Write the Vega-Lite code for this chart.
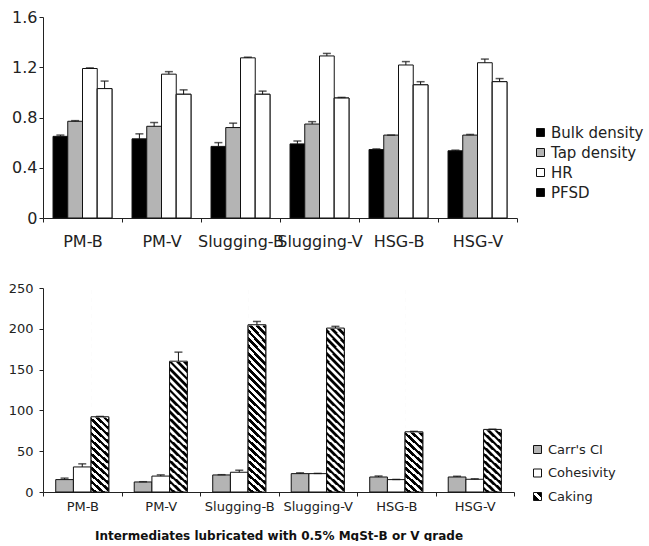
{
  "$schema": "https://vega.github.io/schema/vega-lite/v6.json",
  "padding": {"left": 8, "top": 9, "right": 0, "bottom": 0},
  "background": "white",
  "spacing": 33,
  "resolve": {"scale": {"x": "independent", "y": "independent", "xOffset": "independent", "fill": "independent"}, "legend": {"fill": "independent"}, "axis": {"x": "independent", "y": "independent"}},
  "datasets": {
    "top": [
      {"g": "PM-B", "m": "Bulk density", "v": 0.65, "hi": 0.66},
      {"g": "PM-B", "m": "Tap density", "v": 0.77, "hi": 0.775},
      {"g": "PM-B", "m": "HR", "v": 1.19, "hi": 1.195},
      {"g": "PM-B", "m": "PFSD", "v": 1.03, "hi": 1.09},
      {"g": "PM-V", "m": "Bulk density", "v": 0.63, "hi": 0.67},
      {"g": "PM-V", "m": "Tap density", "v": 0.73, "hi": 0.76},
      {"g": "PM-V", "m": "HR", "v": 1.145, "hi": 1.165},
      {"g": "PM-V", "m": "PFSD", "v": 0.985, "hi": 1.02},
      {"g": "Slugging-B", "m": "Bulk density", "v": 0.57, "hi": 0.6},
      {"g": "Slugging-B", "m": "Tap density", "v": 0.72, "hi": 0.755},
      {"g": "Slugging-B", "m": "HR", "v": 1.275, "hi": 1.28},
      {"g": "Slugging-B", "m": "PFSD", "v": 0.985, "hi": 1.01},
      {"g": "Slugging-V", "m": "Bulk density", "v": 0.59, "hi": 0.613},
      {"g": "Slugging-V", "m": "Tap density", "v": 0.748, "hi": 0.767},
      {"g": "Slugging-V", "m": "HR", "v": 1.29, "hi": 1.31},
      {"g": "Slugging-V", "m": "PFSD", "v": 0.955, "hi": 0.96},
      {"g": "HSG-B", "m": "Bulk density", "v": 0.545, "hi": 0.55},
      {"g": "HSG-B", "m": "Tap density", "v": 0.66, "hi": 0.66},
      {"g": "HSG-B", "m": "HR", "v": 1.218, "hi": 1.245},
      {"g": "HSG-B", "m": "PFSD", "v": 1.06, "hi": 1.085},
      {"g": "HSG-V", "m": "Bulk density", "v": 0.535, "hi": 0.54},
      {"g": "HSG-V", "m": "Tap density", "v": 0.66, "hi": 0.665},
      {"g": "HSG-V", "m": "HR", "v": 1.236, "hi": 1.265},
      {"g": "HSG-V", "m": "PFSD", "v": 1.085, "hi": 1.11}
    ],
    "bottom": [
      {"g": "PM-B", "m": "Carr's CI", "v": 15.2, "hi": 17},
      {"g": "PM-B", "m": "Cohesivity", "v": 30.7, "hi": 34.5},
      {"g": "PM-B", "m": "Caking", "v": 92.2, "hi": 92.6},
      {"g": "PM-V", "m": "Carr's CI", "v": 12.3, "hi": 12.6},
      {"g": "PM-V", "m": "Cohesivity", "v": 19.5, "hi": 21},
      {"g": "PM-V", "m": "Caking", "v": 160.3, "hi": 171.4},
      {"g": "Slugging-B", "m": "Carr's CI", "v": 20.9, "hi": 21.2},
      {"g": "Slugging-B", "m": "Cohesivity", "v": 24.2, "hi": 26.7},
      {"g": "Slugging-B", "m": "Caking", "v": 205, "hi": 209},
      {"g": "Slugging-V", "m": "Carr's CI", "v": 22.5, "hi": 23.5},
      {"g": "Slugging-V", "m": "Cohesivity", "v": 22.5, "hi": 22.8},
      {"g": "Slugging-V", "m": "Caking", "v": 200.9, "hi": 203},
      {"g": "HSG-B", "m": "Carr's CI", "v": 18.4, "hi": 19.6},
      {"g": "HSG-B", "m": "Cohesivity", "v": 15.2, "hi": 15.4},
      {"g": "HSG-B", "m": "Caking", "v": 73.8, "hi": 74.3},
      {"g": "HSG-V", "m": "Carr's CI", "v": 18.4, "hi": 19.3},
      {"g": "HSG-V", "m": "Cohesivity", "v": 15.6, "hi": 16.2},
      {"g": "HSG-V", "m": "Caking", "v": 76.7, "hi": 77}
    ]
  },
  "vconcat": [
    {
      "width": 474,
      "height": 201,
      "data": {"name": "top"},
      "encoding": {
        "x": {"field": "g", "type": "nominal", "sort": null,
          "scale": {"domain": ["PM-B", "PM-V", "Slugging-B", "Slugging-V", "HSG-B", "HSG-V"], "paddingInner": 0, "paddingOuter": 0},
          "axis": {"title": null, "labelAngle": 0, "labelFontSize": 16, "labelPadding": 11, "tickBand": "extent", "labelOverlap": false, "labelBound": false}},
        "xOffset": {"field": "m", "type": "nominal",
          "scale": {"domain": ["Bulk density", "Tap density", "HR", "PFSD"], "paddingInner": 0, "paddingOuter": 0.68}}
      },
      "layer": [
        {
          "mark": {"type": "bar", "stroke": "#111", "strokeWidth": 1},
          "encoding": {
            "y": {"field": "v", "type": "quantitative", "stack": null,
              "scale": {"domain": [0, 1.6], "nice": false},
              "axis": {"title": null, "values": [0, 0.4, 0.8, 1.2, 1.6], "format": "~g", "labelFontSize": 16, "labelPadding": 2}},
            "fill": {"field": "m", "type": "nominal",
              "scale": {"domain": ["Bulk density", "Tap density", "HR", "PFSD"], "range": ["#000000", "#b4b4b4", "#ffffff", "#000000"]},
              "legend": {"orient": "none", "legendX": 490, "legendY": 108, "title": null, "symbolType": "square", "symbolSize": 64,
                "symbolStrokeColor": "#111", "symbolStrokeWidth": 1, "symbolOpacity": 1,
                "labelFont": "DejaVu Sans", "labelFontSize": 15, "labelColor": "#222", "rowPadding": 4, "labelOffset": 3}}
          }
        },
        {
          "transform": [{"filter": "datum.m == 'PFSD'"}],
          "mark": {"type": "bar", "fill": "#ffffff", "stroke": "#111", "strokeWidth": 1},
          "encoding": {
            "y": {"field": "v", "type": "quantitative", "stack": null}
          }
        },
        {
          "mark": {"type": "rule", "color": "#111", "strokeWidth": 1},
          "encoding": {
            "y": {"field": "v", "type": "quantitative"},
            "y2": {"field": "hi"}
          }
        },
        {
          "mark": {"type": "tick", "orient": "horizontal", "size": 8, "thickness": 1.5, "color": "#111"},
          "encoding": {
            "y": {"field": "hi", "type": "quantitative"}
          }
        }
      ]
    },
    {
      "width": 471,
      "height": 204,
      "data": {"name": "bottom"},
      "encoding": {
        "x": {"field": "g", "type": "nominal", "sort": null,
          "scale": {"domain": ["PM-B", "PM-V", "Slugging-B", "Slugging-V", "HSG-B", "HSG-V"], "paddingInner": 0, "paddingOuter": 0},
          "axis": {"title": "Intermediates lubricated with 0.5% MgSt-B or V grade", "titleFont": "DejaVu Sans", "titleFontWeight": "bold", "titleFontSize": 12, "titleColor": "#111", "titlePadding": 17,
            "labelAngle": 0, "labelFontSize": 13, "labelPadding": 4, "tickBand": "extent", "labelOverlap": false, "labelBound": false}},
        "xOffset": {"field": "m", "type": "nominal",
          "scale": {"domain": ["Carr's CI", "Cohesivity", "Caking"], "paddingInner": 0, "paddingOuter": 0.72}}
      },
      "layer": [
        {
          "mark": {"type": "bar", "stroke": "#111", "strokeWidth": 1},
          "encoding": {
            "y": {"field": "v", "type": "quantitative", "stack": null,
              "scale": {"domain": [0, 250], "nice": false},
              "axis": {"title": null, "values": [0, 50, 100, 150, 200, 250], "labelFontSize": 13, "labelPadding": 6}},
            "fill": {"field": "m", "type": "nominal",
              "scale": {"domain": ["Carr's CI", "Cohesivity", "Caking"], "range": ["#b4b4b4", "#ffffff",
                {"expr": "{gradient: 'linear', x1: 1, y1: 0, x2: 0, y2: 1, stops: [{offset: 0, color: '#000'}, {offset: 0.35, color: '#000'}, {offset: 0.35, color: '#fff'}, {offset: 0.6, color: '#fff'}, {offset: 0.6, color: '#000'}, {offset: 1, color: '#000'}]}"}]},
              "legend": {"orient": "none", "legendX": 488, "legendY": 155, "title": null, "symbolType": "square", "symbolSize": 64,
                "symbolStrokeColor": "#111", "symbolStrokeWidth": 1, "symbolOpacity": 1,
                "labelFont": "DejaVu Sans", "labelFontSize": 13, "labelColor": "#222", "rowPadding": 9.5, "labelOffset": 4}}
          }
        },
        {
          "transform": [{"filter": "datum.m == 'Caking'"}],
          "mark": {"type": "bar", "strokeWidth": 0, "fill": {"gradient": "radial", "x1": 3.682, "y1": -2.682, "r1": 0, "x2": 3.682, "y2": -2.682, "r2": 5, "stops": [
            {"offset": 0.82, "color": "#000"}, {"offset": 0.8225, "color": "#000"}, {"offset": 0.8225, "color": "#fff"}, {"offset": 0.825, "color": "#fff"},
            {"offset": 0.825, "color": "#000"}, {"offset": 0.8275, "color": "#000"}, {"offset": 0.8275, "color": "#fff"}, {"offset": 0.83, "color": "#fff"},
            {"offset": 0.83, "color": "#000"}, {"offset": 0.8325, "color": "#000"}, {"offset": 0.8325, "color": "#fff"}, {"offset": 0.835, "color": "#fff"},
            {"offset": 0.835, "color": "#000"}, {"offset": 0.8375, "color": "#000"}, {"offset": 0.8375, "color": "#fff"}, {"offset": 0.84, "color": "#fff"},
            {"offset": 0.84, "color": "#000"}, {"offset": 0.8425, "color": "#000"}, {"offset": 0.8425, "color": "#fff"}, {"offset": 0.845, "color": "#fff"},
            {"offset": 0.845, "color": "#000"}, {"offset": 0.8475, "color": "#000"}, {"offset": 0.8475, "color": "#fff"}, {"offset": 0.85, "color": "#fff"},
            {"offset": 0.85, "color": "#000"}, {"offset": 0.8525, "color": "#000"}, {"offset": 0.8525, "color": "#fff"}, {"offset": 0.855, "color": "#fff"},
            {"offset": 0.855, "color": "#000"}, {"offset": 0.8575, "color": "#000"}, {"offset": 0.8575, "color": "#fff"}, {"offset": 0.86, "color": "#fff"},
            {"offset": 0.86, "color": "#000"}, {"offset": 0.8625, "color": "#000"}, {"offset": 0.8625, "color": "#fff"}, {"offset": 0.865, "color": "#fff"},
            {"offset": 0.865, "color": "#000"}, {"offset": 0.8675, "color": "#000"}, {"offset": 0.8675, "color": "#fff"}, {"offset": 0.87, "color": "#fff"},
            {"offset": 0.87, "color": "#000"}, {"offset": 0.8725, "color": "#000"}, {"offset": 0.8725, "color": "#fff"}, {"offset": 0.875, "color": "#fff"},
            {"offset": 0.875, "color": "#000"}, {"offset": 0.8775, "color": "#000"}, {"offset": 0.8775, "color": "#fff"}, {"offset": 0.88, "color": "#fff"},
            {"offset": 0.88, "color": "#000"}, {"offset": 0.8825, "color": "#000"}, {"offset": 0.8825, "color": "#fff"}, {"offset": 0.885, "color": "#fff"},
            {"offset": 0.885, "color": "#000"}, {"offset": 0.8875, "color": "#000"}, {"offset": 0.8875, "color": "#fff"}, {"offset": 0.89, "color": "#fff"},
            {"offset": 0.89, "color": "#000"}, {"offset": 0.8925, "color": "#000"}, {"offset": 0.8925, "color": "#fff"}, {"offset": 0.895, "color": "#fff"},
            {"offset": 0.895, "color": "#000"}, {"offset": 0.8975, "color": "#000"}, {"offset": 0.8975, "color": "#fff"}, {"offset": 0.9, "color": "#fff"},
            {"offset": 0.9, "color": "#000"}, {"offset": 0.9025, "color": "#000"}, {"offset": 0.9025, "color": "#fff"}, {"offset": 0.905, "color": "#fff"},
            {"offset": 0.905, "color": "#000"}, {"offset": 0.9075, "color": "#000"}, {"offset": 0.9075, "color": "#fff"}, {"offset": 0.91, "color": "#fff"},
            {"offset": 0.91, "color": "#000"}, {"offset": 0.9125, "color": "#000"}, {"offset": 0.9125, "color": "#fff"}, {"offset": 0.915, "color": "#fff"},
            {"offset": 0.915, "color": "#000"}, {"offset": 0.9175, "color": "#000"}, {"offset": 0.9175, "color": "#fff"}, {"offset": 0.92, "color": "#fff"},
            {"offset": 0.92, "color": "#000"}, {"offset": 0.9225, "color": "#000"}, {"offset": 0.9225, "color": "#fff"}, {"offset": 0.925, "color": "#fff"},
            {"offset": 0.925, "color": "#000"}, {"offset": 0.9275, "color": "#000"}, {"offset": 0.9275, "color": "#fff"}, {"offset": 0.93, "color": "#fff"},
            {"offset": 0.93, "color": "#000"}, {"offset": 0.9325, "color": "#000"}, {"offset": 0.9325, "color": "#fff"}, {"offset": 0.935, "color": "#fff"},
            {"offset": 0.935, "color": "#000"}, {"offset": 0.9375, "color": "#000"}, {"offset": 0.9375, "color": "#fff"}, {"offset": 0.94, "color": "#fff"},
            {"offset": 0.94, "color": "#000"}, {"offset": 0.9425, "color": "#000"}, {"offset": 0.9425, "color": "#fff"}, {"offset": 0.945, "color": "#fff"},
            {"offset": 0.945, "color": "#000"}, {"offset": 0.9475, "color": "#000"}, {"offset": 0.9475, "color": "#fff"}, {"offset": 0.95, "color": "#fff"},
            {"offset": 0.95, "color": "#000"}, {"offset": 0.9525, "color": "#000"}, {"offset": 0.9525, "color": "#fff"}, {"offset": 0.955, "color": "#fff"},
            {"offset": 0.955, "color": "#000"}, {"offset": 0.9575, "color": "#000"}, {"offset": 0.9575, "color": "#fff"}, {"offset": 0.96, "color": "#fff"},
            {"offset": 0.96, "color": "#000"}, {"offset": 0.9625, "color": "#000"}, {"offset": 0.9625, "color": "#fff"}, {"offset": 0.965, "color": "#fff"},
            {"offset": 0.965, "color": "#000"}, {"offset": 0.9675, "color": "#000"}, {"offset": 0.9675, "color": "#fff"}, {"offset": 0.97, "color": "#fff"},
            {"offset": 0.97, "color": "#000"}, {"offset": 0.9725, "color": "#000"}, {"offset": 0.9725, "color": "#fff"}, {"offset": 0.975, "color": "#fff"},
            {"offset": 0.975, "color": "#000"}, {"offset": 0.9775, "color": "#000"}, {"offset": 0.9775, "color": "#fff"}, {"offset": 0.98, "color": "#fff"}
          ]}},
          "encoding": {
            "y": {"datum": 250, "type": "quantitative"},
            "y2": {"datum": 0}
          }
        },
        {
          "transform": [{"filter": "datum.m == 'Caking'"}],
          "mark": {"type": "bar", "fill": "#ffffff", "stroke": "#ffffff", "strokeWidth": 1.5},
          "encoding": {
            "y": {"field": "v", "type": "quantitative"},
            "y2": {"datum": 250}
          }
        },
        {
          "transform": [{"filter": "datum.m == 'Caking'"}],
          "mark": {"type": "bar", "fill": "transparent", "stroke": "#111", "strokeWidth": 1},
          "encoding": {
            "y": {"field": "v", "type": "quantitative", "stack": null}
          }
        },
        {
          "mark": {"type": "rule", "color": "#111", "strokeWidth": 1},
          "encoding": {
            "y": {"field": "v", "type": "quantitative"},
            "y2": {"field": "hi"}
          }
        },
        {
          "mark": {"type": "tick", "orient": "horizontal", "size": 8, "thickness": 1.5, "color": "#111"},
          "encoding": {
            "y": {"field": "hi", "type": "quantitative"}
          }
        }
      ]
    }
  ],
  "config": {
    "view": {"stroke": null},
    "font": "DejaVu Sans",
    "axis": {"grid": false, "labelFont": "DejaVu Sans", "labelColor": "#222", "domainColor": "#222", "tickColor": "#222", "tickSize": 4, "domainWidth": 1, "tickWidth": 1},
    "legend": {"labelLimit": 200}
  }
}
